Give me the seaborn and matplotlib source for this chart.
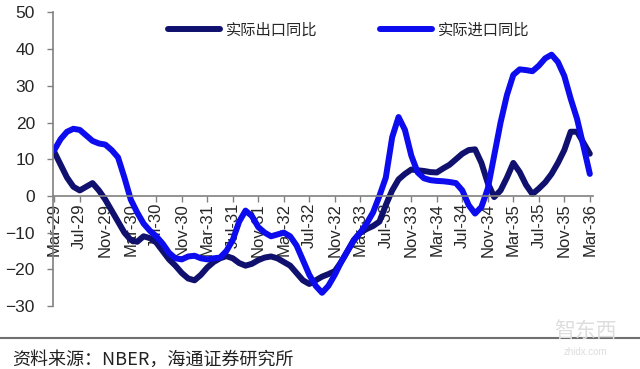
import matplotlib
matplotlib.use("Agg")
import matplotlib.pyplot as plt
import seaborn as sns
import pandas as pd
from matplotlib.lines import Line2D

# ---- data (monthly, Mar-1929 .. Mar-1936) ----
export_yoy = [12, 8.5, 5, 2.5, 1.5, 2.5, 3.5, 1.5, -1, -4,
              -7, -10, -12, -12.5, -11, -11.5, -12.7, -15, -17.3, -19,
              -21, -22.5, -23, -21.5, -19.5, -18, -17, -16.4, -17, -18.3,
              -19, -18.5, -17.5, -16.8, -16.5, -17, -18, -19, -21, -23,
              -24, -23, -22, -21.3, -20.5, -18, -15, -12, -10, -9,
              -8.2, -7, -2.5, 1.5, 4.5, 6, 7.2, 7, 6.8, 6.5,
              6.4, 7.5, 8.5, 10, 11.5, 12.5, 12.7, 9, 3.5, -0.3,
              1.5, 5, 9, 6.5, 3, 0.5, 2, 3.7, 6, 9,
              12.5, 17.5, 17.5, 14.5, 11.5]
import_yoy = [12.5, 15.5, 17.5, 18.3, 18, 16.5, 15, 14.3, 14, 12.5,
              10.5, 5, -1, -4.5, -7.5, -9.5, -11, -13, -15.5, -17,
              -17.3, -16.5, -16.3, -17, -17.3, -17, -16.8, -15, -12, -7,
              -4, -5.5, -8.5, -10, -11, -10.5, -10, -11, -13.5, -17.5,
              -21.5, -24.5, -26.4, -24.5, -21.5, -18, -15, -12, -10, -7.5,
              -4.5, 0, 5, 16, 21.5, 18, 11, 6.4, 4.8, 4.3,
              4.1, 4, 3.8, 3.5, 1.5, -2.5, -4.8, -3, 2, 11,
              20, 27.5, 33, 34.5, 34.3, 34, 35.5, 37.5, 38.5, 36.5,
              32.7, 26.5, 21, 13.6, 6]
tick_labels = ["Mar-29", "Jul-29", "Nov-29", "Mar-30", "Jul-30", "Nov-30",
               "Mar-31", "Jul-31", "Nov-31", "Mar-32", "Jul-32", "Nov-32",
               "Mar-33", "Jul-33", "Nov-33", "Mar-34", "Jul-34", "Nov-34",
               "Mar-35", "Jul-35", "Nov-35", "Mar-36"]
series_names = ["实际出口同比", "实际进口同比"]
source_text = "资料来源：NBER，海通证券研究所"

months = list(range(len(export_yoy)))
df = pd.DataFrame({
    "month": months * 2,
    "value": export_yoy + import_yoy,
    "series": [series_names[0]] * len(export_yoy) + [series_names[1]] * len(import_yoy),
})

sns.set_style("white")
plt.rcParams["font.family"] = ["Liberation Sans", "Noto Sans CJK SC", "DejaVu Sans"]

fig = plt.figure(figsize=(6.4, 3.69), dpi=100)
ax = fig.add_axes([53 / 640, 63 / 369, 540 / 640, 293.5 / 369])

palette = {series_names[0]: "#10106e", series_names[1]: "#0c0cee"}
sns.lineplot(data=df, x="month", y="value", hue="series", palette=palette,
             linewidth=4.3, ax=ax, legend=False,
             solid_joinstyle="round", solid_capstyle="round")

ax.set_xlim(-0.2, 84.5)
ax.set_ylim(-30, 50)
ax.set_yticks(range(-30, 51, 10))
ax.set_xticks(range(0, 85, 4))
ax.set_xticklabels(tick_labels)
ax.tick_params(axis="y", labelsize=12.5, length=4, width=1, color="#808080",
               direction="out", left=True, pad=9)
ax.tick_params(axis="x", labelsize=12, labelrotation=90, length=4, width=1,
               color="#808080", direction="out", bottom=True, pad=1)
ax.set_xlabel("")
ax.set_ylabel("")

for s in ["top", "right"]:
    ax.spines[s].set_visible(False)
ax.spines["bottom"].set_position(("data", 0))
ax.spines["bottom"].set_color("#808080")
ax.spines["left"].set_color("#808080")
ax.spines["bottom"].set_linewidth(1.2)
ax.spines["left"].set_linewidth(1.2)
ax.spines["left"].set_position(("data", -0.2))

handles = [Line2D([], [], color=palette[n], linewidth=4.3, solid_capstyle="round")
           for n in series_names]
fig.legend(handles, series_names, loc="center", bbox_to_anchor=(0.5445, 0.918),
           ncol=2, frameon=False, handlelength=3.4, handletextpad=0.4,
           columnspacing=4.1,
           prop={"family": ["Noto Sans CJK SC"], "size": 11})

fig.add_artist(Line2D([0, 1], [1 - 338 / 369, 1 - 338 / 369], color="#707070",
                      linewidth=1.5, transform=fig.transFigure))
fig.text(12 / 640, 1 - 360 / 369, source_text, fontsize=13, va="center",
         ha="left", family=["Noto Sans CJK SC"], color="#222222")

# faint watermark
fig.text(585 / 640, 1 - 331 / 369, "智东西", fontsize=15, color="#dddddd",
         ha="center", va="center", family=["Noto Sans CJK SC"])
fig.text(585 / 640, 1 - 352 / 369, "zhidx.com", fontsize=7, color="#dddddd",
         ha="center", va="center")

fig.savefig("out.png", dpi=100)
